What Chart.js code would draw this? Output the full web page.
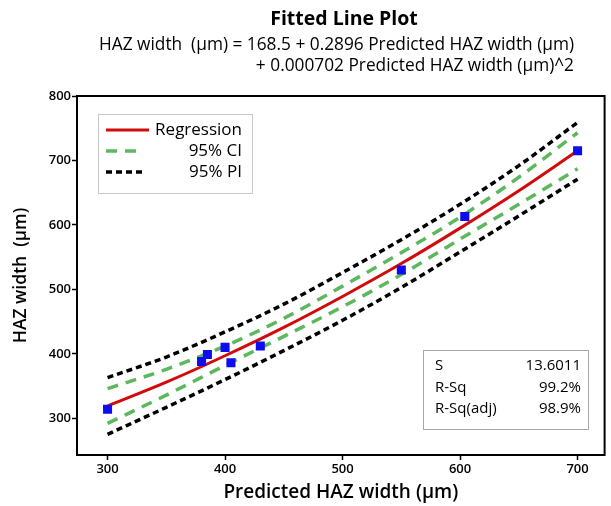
<!DOCTYPE html>
<html>
<head>
<meta charset="utf-8">
<script src="https://cdn.jsdelivr.net/npm/chart.js@4.4.0/dist/chart.umd.min.js"></script>
<style>
body{margin:0;background:#fff;}
#wrap{width:611px;height:506px;position:relative;}
</style>
</head>
<body>
<div id="wrap"><canvas id="grafica"></canvas></div>
<script>
// observaciones
var obsX=[300,380,385,400,405,430,550,604,700];
var obsY=[314,388,399,410,386,412,530,613,715];
// curvas
var fitX=[300,350,400,450,500,550,600,650,700];
var fitY=[319,356,397,441,489,540,595,653,715];
var ciLow=[292,336,382,427,473,523,578,632,687];
var ciHigh=[346,376,412,455,505,557,612,674,743];
var piLow=[275,317,360,405,452,503,558,614,671];
var piHigh=[363,395,434,477,526,577,632,692,759];
var xTicks=[300,400,500,600,700];
var yTicks=[300,400,500,600,700,800];
var statNames=['S','R-Sq','R-Sq(adj)'];
var statValues=['13.6011','99.2%','98.9%'];
var titulo='Fitted Line Plot';
var ecuacion=['HAZ width  (µm) = 168.5 + 0.2896 Predicted HAZ width (µm)','+ 0.000702 Predicted HAZ width (µm)^2'];

var FUENTE='"Open Sans", "Noto Sans", sans-serif';

function puntos(xs,ys){
	var r=new Array();
	for(var i=0;i<xs.length;i++){
		r.push({x:xs[i],y:ys[i]});
	}
	return r;
}

function linea(label,ys,color,ancho,dash){
	return {
		label:label,
		data:puntos(fitX,ys),
		showLine:true,
		borderColor:color,
		borderWidth:ancho,
		borderDash:dash,
		pointRadius:0,
		fill:false,
		cubicInterpolationMode:'monotone'
	};
}

var ROJO='#d10a0a', VERDE='#5cb85c', NEGRO='#000000';

var extras={
	id:'extras',
	afterDraw:function(chart){
		var ctx=chart.ctx, a=chart.chartArea;
		ctx.save();
		// titulo
		ctx.fillStyle='#000';
		ctx.textBaseline='middle';
		ctx.textAlign='center';
		ctx.font='bold 19.5px '+FUENTE;
		ctx.fillText(titulo,344,19);
		ctx.font='17.3px '+FUENTE;
		ctx.textAlign='right';
		ctx.fillText(ecuacion[0],574,45);
		ctx.fillText(ecuacion[1],574,66);
		// marco
		ctx.lineWidth=2;
		ctx.strokeStyle='#000';
		ctx.setLineDash([]);
		ctx.strokeRect(a.left,a.top,a.right-a.left,a.bottom-a.top);
		// leyenda
		ctx.fillStyle='#fff';
		ctx.fillRect(98,114,154,79);
		ctx.lineWidth=1;
		ctx.strokeStyle='#c8c8c8';
		ctx.strokeRect(98.5,114.5,154,79);
		var filas=[[1,130,149],[2,151,141],[3,172,146]];
		for(var i=0;i<filas.length;i++){
			var ds=chart.data.datasets[filas[i][0]];
			ctx.beginPath();
			ctx.strokeStyle=ds.borderColor;
			ctx.lineWidth=ds.borderWidth;
			ctx.setLineDash(ds.borderDash||[]);
			ctx.moveTo(106,filas[i][1]);
			ctx.lineTo(filas[i][2],filas[i][1]);
			ctx.stroke();
			ctx.setLineDash([]);
			ctx.fillStyle='#000';
			ctx.font='17px '+FUENTE;
			ctx.textAlign='right';
			ctx.fillText(ds.label,242,filas[i][1]);
		}
		// cuadro de estadisticos
		ctx.fillStyle='#fff';
		ctx.fillRect(423,350,165,79);
		ctx.lineWidth=1;
		ctx.strokeStyle='#a8a8a8';
		ctx.strokeRect(423.5,350.5,165,79);
		ctx.fillStyle='#000';
		ctx.font='15px '+FUENTE;
		for(var j=0;j<statNames.length;j++){
			var yy=366+j*21.5;
			ctx.textAlign='left';
			ctx.fillText(statNames[j],435,yy);
			ctx.textAlign='right';
			ctx.fillText(statValues[j],581,yy);
		}
		ctx.restore();
	}
};

var config={
	type:'scatter',
	data:{
		datasets:[
			{
				label:'Data',
				data:puntos(obsX,obsY),
				pointStyle:'rect',
				pointRadius:6.4,
				pointBackgroundColor:'#0d0df0',
				pointBorderWidth:0,
				showLine:false
			},
			linea('Regression',fitY,ROJO,3,[]),
			linea('95% CI',ciLow,VERDE,3.5,[11,8]),
			linea('95% PI',piLow,NEGRO,3.5,[6,4]),
			linea('95% CI',ciHigh,VERDE,3.5,[11,8]),
			linea('95% PI',piHigh,NEGRO,3.5,[6,4])
		]
	},
	options:{
		responsive:true,
		maintainAspectRatio:false,
		animation:false,
		layout:{padding:{top:96,right:4,left:0,bottom:0}},
		plugins:{legend:{display:false},tooltip:{enabled:false}},
		scales:{
			x:{
				type:'linear',
				min:274,
				max:723,
				afterBuildTicks:function(s){ s.ticks=xTicks.map(function(v){return {value:v};}); },
				afterFit:function(s){ s.height=51; },
				grid:{drawOnChartArea:false,drawTicks:true,tickLength:5,tickColor:'#000',tickWidth:1.5},
				border:{display:false},
				ticks:{color:'#000',font:{family:FUENTE,size:13,weight:'600'},padding:1,maxRotation:0},
				title:{display:true,text:'Predicted HAZ width (µm)',color:'#000',font:{family:FUENTE,size:19,weight:'600'},padding:{top:0,bottom:2}}
			},
			y:{
				type:'linear',
				min:243,
				max:800,
				afterBuildTicks:function(s){ s.ticks=yTicks.map(function(v){return {value:v};}); },
				afterFit:function(s){ s.width=77; },
				grid:{drawOnChartArea:false,drawTicks:true,tickLength:5,tickColor:'#000',tickWidth:1.5},
				border:{display:false},
				ticks:{color:'#000',font:{family:FUENTE,size:13,weight:'600'},padding:1},
				title:{display:true,text:'HAZ width  (µm)',color:'#000',font:{family:FUENTE,size:17.5,weight:'600'},padding:{top:11,bottom:0}}
			}
		}
	},
	plugins:[extras]
};

var canvas=document.getElementById('grafica').getContext('2d');
new Chart(canvas,config);
</script>
</body>
</html>
